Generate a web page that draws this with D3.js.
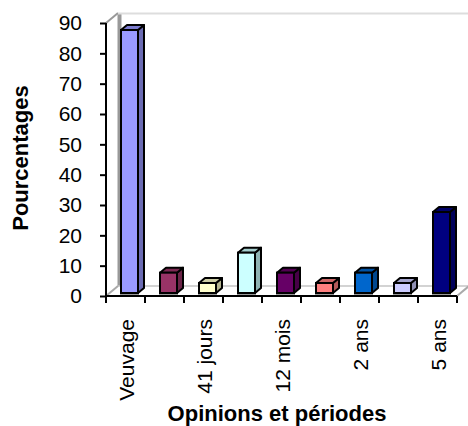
<!DOCTYPE html>
<html><head><meta charset="utf-8">
<script src="https://cdn.jsdelivr.net/npm/d3@7/dist/d3.min.js"></script>
<style>html,body{margin:0;padding:0;background:#fff}svg{display:block}text{font-family:"Liberation Sans",Arial,sans-serif;fill:#000}</style>
</head><body><svg id="c" width="468" height="426"></svg>
<script>
const categories=["Veuvage","b","41 jours","d","12 mois","f","2 ans","h","5 ans"];
const shownLabels=["Veuvage","41 jours","12 mois","2 ans","5 ans"];
const values=[86.7,6.7,3.3,13.3,6.7,3.3,6.7,3.3,26.7];
const colors=["#9999ff","#993366","#ffffcc","#ccffff","#660066","#ff8080","#0066cc","#ccccff","#000080"];
const yTicks=[0,10,20,30,40,50,60,70,80,90];

const svg=d3.select("#c");
const x=d3.scaleBand().domain(categories).range([106,457]);
const y=d3.scaleLinear().domain([0,90]).range([296,23]);
const dx=12,dy=10;

// walls
const wall=svg.append("g").attr("fill","none");
wall.append("path").attr("d",`M${x.range()[0]+dx+1.5},${y(0)-dy}V${y(90)-dy}`).attr("stroke","#999").attr("stroke-width",4);
wall.append("path").attr("d",`M${x.range()[0]},${y(90)}L${x.range()[0]+dx},${y(90)-dy}`).attr("stroke","#999").attr("stroke-width",2);
wall.append("path").attr("d",`M${x.range()[0]+dx},${y(90)-dy+0.5}H468`).attr("stroke","#ddd").attr("stroke-width",2);
wall.append("path").attr("d",`M${x.range()[0]+dx},${y(0)-dy}H468`).attr("stroke","#c4c4c4").attr("stroke-width",1.5);
wall.append("path").attr("d",`M${x.range()[0]},${y(0)}L${x.range()[0]+dx},${y(0)-dy}`).attr("stroke","#aaa").attr("stroke-width",2);
wall.append("path").attr("d",`M${x.range()[1]},${y(0)}L${x.range()[1]+dx},${y(0)-dy}`).attr("stroke","#aaa").attr("stroke-width",2);

// bars
const bw=17,bdx=6,bdy=5,lift=3;
const bars=svg.append("g").selectAll("g").data(categories).join("g");
const fx=c=>x(c)+x.bandwidth()/2-bw/2+4;
const barTop=i=>y(values[i])-lift;
const base=y(0)-lift;
const shade=(c,k)=>d3.color(c).darker(k).formatHex();
const sw=2;
// bottom shadow under each bar
bars.append("rect").attr("x",d=>fx(d)-1).attr("y",base).attr("width",bw+2).attr("height",2.5).attr("fill","#999");
// side
bars.append("path").attr("d",(d,i)=>{const X=fx(d)+bw,T=barTop(i);return `M${X},${T}l${bdx},${-bdy}V${base-bdy}l${-bdx},${bdy}Z`;})
 .attr("fill",(d,i)=>shade(colors[i],1.0)).attr("stroke","#000").attr("stroke-width",sw).attr("stroke-linejoin","round");
// top
bars.append("path").attr("d",(d,i)=>{const X=fx(d),T=barTop(i);return `M${X},${T}l${bdx},${-bdy}h${bw}l${-bdx},${bdy}Z`;})
 .attr("fill",(d,i)=>shade(colors[i],0.6)).attr("stroke","#000").attr("stroke-width",sw).attr("stroke-linejoin","round");
// front
bars.append("rect").attr("x",d=>fx(d)).attr("y",(d,i)=>barTop(i)).attr("width",bw).attr("height",(d,i)=>base-barTop(i))
 .attr("fill",(d,i)=>colors[i]).attr("stroke","#000").attr("stroke-width",sw);

// axes
const axY=d3.axisLeft(y).tickValues(yTicks).tickSize(6).tickPadding(18);
const gy=svg.append("g").attr("transform",`translate(${x.range()[0]},0)`).call(axY);
gy.selectAll("path").attr("d",`M0,${y(90)}V${y(0)}`).attr("stroke","#000").attr("stroke-width",2);
gy.selectAll("line").attr("stroke","#000").attr("stroke-width",2);
gy.selectAll("text").attr("font-size",21).attr("font-family",'"Liberation Sans",Arial,sans-serif');

const gx=svg.append("g").attr("transform",`translate(0,${y(0)})`);
const tickXs=[x.range()[0]].concat(categories.map(c=>x(c)+x.bandwidth()));
gx.append("line").attr("x1",x.range()[0]).attr("x2",x.range()[1]).attr("stroke","#000").attr("stroke-width",2);
gx.selectAll("line.t").data(tickXs).join("line").attr("class","t").attr("x1",d=>d).attr("x2",d=>d).attr("y1",0).attr("y2",7).attr("stroke","#000").attr("stroke-width",2);

svg.append("g").selectAll("text").data(shownLabels).join("text")
 .attr("transform",d=>`translate(${x(d)+x.bandwidth()/2+8.5},319) rotate(-90)`)
 .attr("text-anchor","end").attr("font-size",21).text(d=>d);

svg.append("text").attr("x",277).attr("y",421).attr("text-anchor","middle").attr("font-size",22).attr("font-weight","bold").text("Opinions et périodes");
svg.append("text").attr("transform","translate(28,158) rotate(-90)").attr("text-anchor","middle").attr("font-size",22).attr("font-weight","bold").text("Pourcentages");
</script></body></html>
